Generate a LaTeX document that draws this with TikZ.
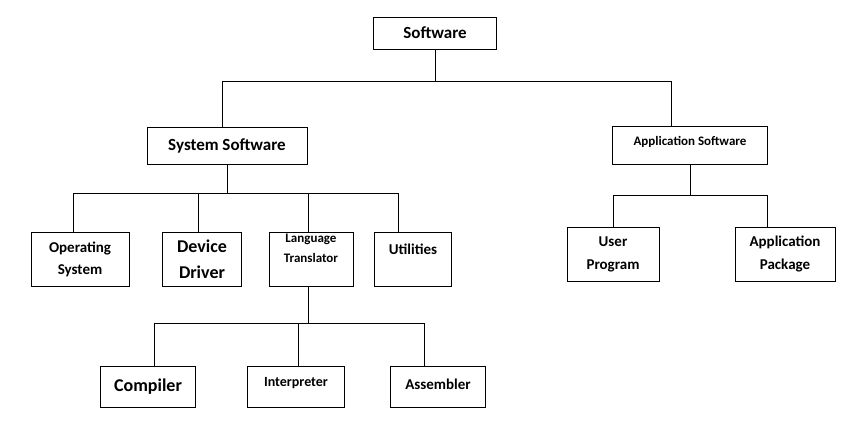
\documentclass[tikz,border=0pt]{standalone}
\usepackage{fontspec}
\setmainfont{Carlito}
\begin{document}
\begin{tikzpicture}[x=1pt, y=-1pt, thick]
  % Styles
  \tikzset{box/.style={rectangle, draw=black, fill=white, align=center, font=\bfseries, inner sep=1pt}}
  \useasboundingbox (0,0) rectangle (868,437);
  % Nodes
  \node[box, minimum width=123pt, minimum height=32pt, font=\bfseries\fontsize{17}{19}\selectfont] (software) at (435,33) {Software};
  \node[box, minimum width=160pt, minimum height=37pt, font=\bfseries\fontsize{17}{19}\selectfont] (system) at (227,146) {System Software};
  \node[box, minimum width=155pt, minimum height=38pt, font=\bfseries\fontsize{13}{15}\selectfont, text depth=8pt] (application) at (690,145) {Application Software};
  \node[box, minimum width=98pt, minimum height=54pt, font=\bfseries\fontsize{15}{22}\selectfont] (os) at (80,259) {Operating\\System};
  \node[box, minimum width=79pt, minimum height=54pt, font=\bfseries\fontsize{18}{26}\selectfont] (driver) at (202,259) {Device\\Driver};
  \node[box, minimum width=84pt, minimum height=54pt, font=\bfseries\fontsize{13}{20}\selectfont] (translator) at (311,259) {Language\\Translator\\[2pt]};
  \node[box, minimum width=77pt, minimum height=54pt, font=\bfseries\fontsize{15}{17}\selectfont, text depth=20pt] (utilities) at (413,259) {Utilities};
  \node[box, minimum width=92pt, minimum height=54pt, font=\bfseries\fontsize{15}{23}\selectfont] (user) at (613,254) {User\\Program};
  \node[box, minimum width=100pt, minimum height=54pt, font=\bfseries\fontsize{15}{23}\selectfont] (package) at (785,254) {Application\\Package};
  \node[box, minimum width=95pt, minimum height=41pt, font=\bfseries\fontsize{18}{20}\selectfont] (compiler) at (148,387) {Compiler};
  \node[box, minimum width=97pt, minimum height=41pt, font=\bfseries\fontsize{14}{16}\selectfont, text depth=10pt] (interpreter) at (296,387) {Interpreter};
  \node[box, minimum width=95pt, minimum height=41pt, font=\bfseries\fontsize{15}{17}\selectfont, text depth=6pt] (assembler) at (438,387) {Assembler};

  % Junctions
  \coordinate (j1) at (435,81);
  \coordinate (j1a) at (222,81);
  \coordinate (j1b) at (671,81);
  \coordinate (j2) at (227,193);
  \coordinate (j2a) at (73,193);
  \coordinate (j2b) at (198,193);
  \coordinate (j2c) at (308,193);
  \coordinate (j2d) at (398,193);
  \coordinate (j3) at (690,195);
  \coordinate (j3a) at (613,195);
  \coordinate (j3b) at (767,195);
  \coordinate (j4) at (308,323);
  \coordinate (j4a) at (154,323);
  \coordinate (j4b) at (298,323);
  \coordinate (j4c) at (424,323);

  % Connectors
  \draw (software) -- (j1);
  \draw (j1a) -- (j1b);
  \draw (j1a) -- (j1a|-system.north);
  \draw (j1b) -- (j1b|-application.north);
  \draw (application) -- (j3);
  \draw (system) -- (j2);
  \draw (j2a) -- (j2d);
  \draw (j2a) -- (j2a|-os.north);
  \draw (j2b) -- (j2b|-driver.north);
  \draw (j2c) -- (j2c|-translator.north);
  \draw (j2d) -- (j2d|-utilities.north);
  \draw (j3a) -- (j3b);
  \draw (j3a) -- (user.north);
  \draw (j3b) -- (j3b|-package.north);
  \draw (j4|-translator.south) -- (j4);
  \draw (j4a) -- (j4c);
  \draw (j4a) -- (j4a|-compiler.north);
  \draw (j4b) -- (j4b|-interpreter.north);
  \draw (j4c) -- (j4c|-assembler.north);
\end{tikzpicture}
\end{document}
